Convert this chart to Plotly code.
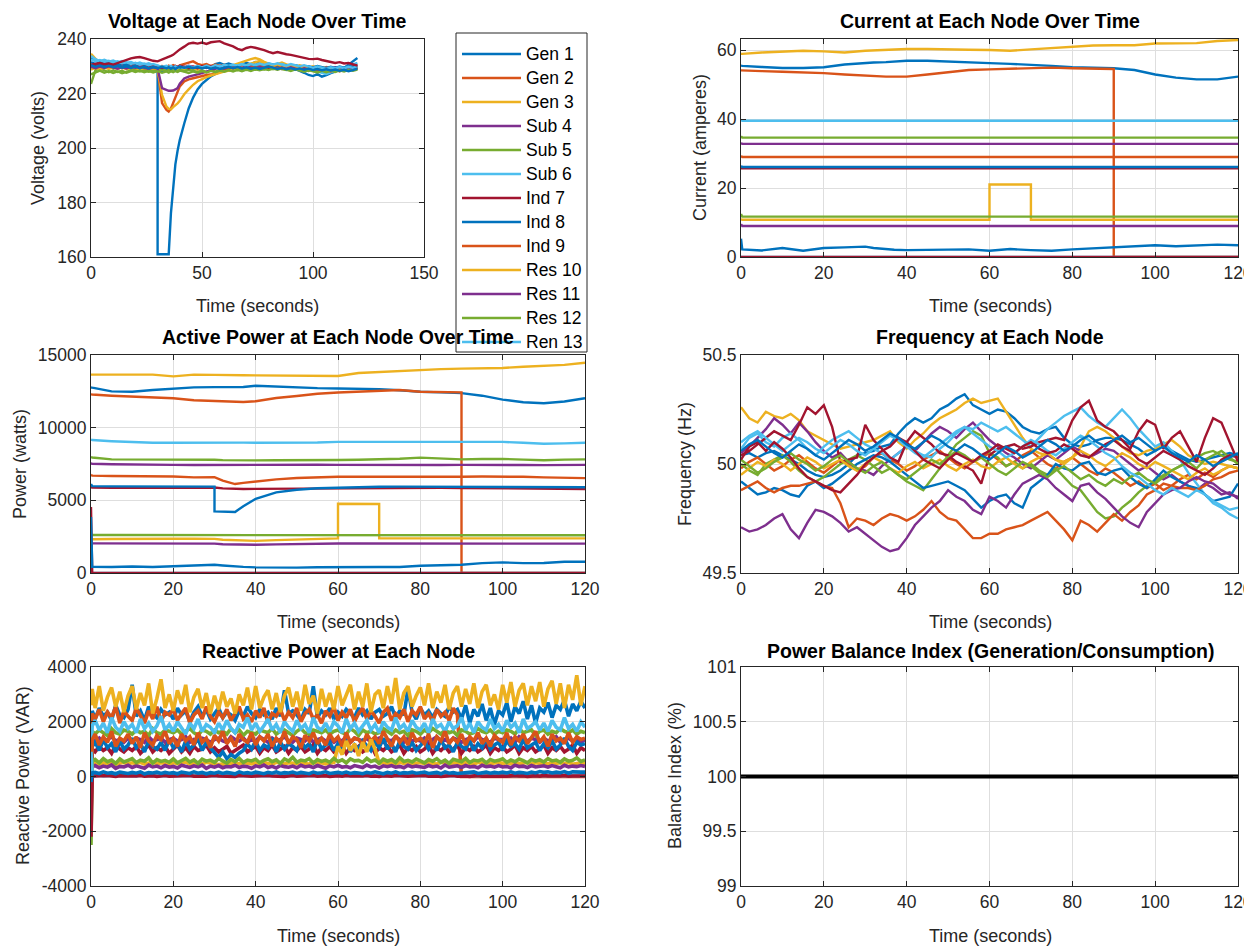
import plotly.graph_objects as go

# ---------------- names / colours / ticks ----------------
NAMES = ["Gen 1", "Gen 2", "Gen 3", "Sub 4", "Sub 5", "Sub 6", "Ind 7",
         "Ind 8", "Ind 9", "Res 10", "Res 11", "Res 12", "Ren 13"]
COLORS = ["#0072BD", "#D95319", "#EDB120", "#7E2F8E", "#77AC30", "#4DBEEE", "#A2142F"]

VOLT_XTICKS = [0, 50, 100, 150]
VOLT_YTICKS = [160, 180, 200, 220, 240]
TIME_TICKS = [0, 20, 40, 60, 80, 100, 120]
CURR_YTICKS = [0, 20, 40, 60]
POW_YTICKS = [0, 5000, 10000, 15000]
FREQ_YTICKS = [49.5, 50, 50.5]
FREQ_YLABELS = ["49.5", "50", "50.5"]
Q_YTICKS = [-4000, -2000, 0, 2000, 4000]
Q_YLABELS = ["-4000", "-2000", "0", "2000", "4000"]
BAL_YTICKS = [99, 99.5, 100, 100.5, 101]
BAL_YLABELS = ["99", "99.5", "100", "100.5", "101"]

# ---------------- voltage (V) ----------------
T_V = [0, 2, 4, 6, 8, 10, 12, 14, 16, 18, 20, 22, 24, 26, 28,
       30, 30, 32, 34, 35, 36, 37, 38, 39, 40,
       42, 44, 46, 48, 50, 52, 54, 56, 58, 60, 62, 64, 66, 68, 70, 72, 74, 76, 78, 80,
       82, 84, 86, 88, 90, 92, 94, 96, 98, 100, 102, 104, 106, 108, 110, 112, 114, 116, 118, 120]

V1 = [233.0, 232.2, 231.5, 231.8, 230.9, 231.4, 230.6, 230.2, 231.0, 230.1, 229.6, 230.3, 229.4, 229.8, 229.1,
      228.6, 228.6, 228.2, 228.9, 229.3, 228.4, 228.8, 229.5, 228.7, 229.2,
      229.8, 229.0, 228.6, 229.4, 229.9, 230.3, 229.6, 230.8, 231.2, 230.5, 231.0, 230.4, 229.9, 230.6, 231.3, 230.7, 231.5, 230.9, 231.2, 230.6,
      230.1, 230.8, 229.9, 230.4, 229.6, 229.0, 228.3, 227.6, 226.8, 226.4, 227.1, 226.2, 226.7, 227.5, 228.0, 228.8, 229.4, 230.6, 231.9, 233.0]
V2 = [230.5, 230.0, 229.6, 230.3, 229.8, 230.6, 230.1, 229.5, 230.2, 229.9, 230.4, 229.7, 230.2, 229.5, 230.0,
      229.8, 229.8, 230.1, 229.6, 230.2, 229.9, 230.4, 230.0, 229.7, 230.3,
      230.9, 231.3, 231.8, 230.9, 230.4, 230.8, 230.1, 230.6, 230.0, 230.5, 229.9, 230.4, 229.8, 230.2, 229.7, 230.3, 229.9, 230.5, 230.1, 229.6,
      230.2, 229.8, 230.4, 229.9, 229.3, 229.8, 229.2, 229.7, 229.1, 229.6, 229.0, 229.5, 228.9, 229.4, 228.8, 229.3, 228.7, 229.2, 228.9, 229.4]
V3 = [234.6, 232.8, 231.0, 230.2, 229.5, 229.9, 229.2, 229.6, 228.9, 229.4, 228.7, 229.1, 228.5, 229.0, 228.6,
      228.9, 228.9, 229.3, 228.8, 229.2, 228.7, 229.1, 228.6, 229.0, 228.5,
      229.0, 228.6, 229.1, 228.7, 229.3, 229.8, 229.4, 230.0, 229.6, 230.3, 229.9, 230.5, 231.0, 231.6, 232.1, 232.6, 233.0, 232.5, 231.6, 230.8,
      230.3, 230.9, 231.4, 230.7, 230.2, 229.8, 230.4, 229.9, 229.4, 230.0, 229.5, 229.1, 229.7, 229.3, 228.8, 229.4, 228.9, 229.5, 229.1, 229.6]
V4 = [229.5, 230.2, 229.8, 230.6, 230.0, 229.4, 230.1, 229.6, 230.3, 229.8, 229.2, 229.9, 229.4, 230.0, 229.5,
      229.8, 229.8, 229.3, 229.9, 229.5, 230.0, 229.4, 229.9, 229.6, 230.1,
      229.7, 230.2, 229.8, 229.3, 229.9, 229.4, 230.0, 229.5, 230.1, 229.7, 229.2, 229.8, 229.3, 229.9, 229.4, 230.0, 229.6, 229.1, 229.7, 229.2,
      229.8, 229.4, 229.9, 229.5, 229.0, 229.6, 229.1, 229.7, 229.2, 228.8, 229.4, 228.9, 229.5, 229.0, 229.6, 229.1, 228.7, 229.3, 228.8, 229.4]
V5 = [223.5, 228.6, 229.2, 228.4, 227.8, 228.5, 227.9, 228.3, 227.6, 228.2, 228.7, 228.1, 228.6, 228.0, 228.4,
      228.2, 228.2, 228.7, 228.3, 228.8, 228.4, 228.9, 228.5, 228.1, 228.6,
      228.2, 228.7, 228.3, 227.8, 228.4, 227.9, 228.5, 228.0, 228.6, 228.9, 228.4, 229.0, 228.5, 229.1, 228.6, 229.2, 228.7, 229.3, 228.8, 229.4,
      228.9, 229.5, 229.0, 228.6, 229.1, 228.7, 229.2, 228.8, 228.3, 228.9, 228.4, 228.0, 228.6, 228.1, 228.7, 228.2, 228.8, 228.4, 228.9, 229.3]
V6 = [233.8, 232.6, 231.9, 232.4, 231.7, 232.1, 231.4, 231.9, 231.2, 231.6, 230.9, 231.4, 230.7, 231.1, 230.5,
      230.2, 230.2, 229.6, 230.0, 229.5, 229.9, 229.3, 229.8, 229.4, 229.9,
      229.5, 230.0, 229.6, 230.1, 229.7, 230.2, 229.8, 230.3, 229.9, 230.5, 230.1, 230.6, 230.2, 230.8, 230.3, 230.9, 230.4, 231.0, 230.6, 231.1,
      230.7, 230.2, 230.8, 230.3, 229.8, 230.4, 229.9, 229.4, 229.0, 228.5, 228.1, 227.6, 227.2, 227.8, 228.3, 228.9, 229.4, 230.0, 230.6, 231.2]
V7 = [229.0, 230.5, 231.0, 230.4, 230.9, 230.2, 229.8, 230.4, 229.9, 230.5, 230.0, 229.6, 230.2, 229.7, 230.3,
      229.9, 229.9, 229.4, 229.9, 229.5, 230.0, 229.6, 230.1, 229.7, 230.2,
      229.8, 229.3, 229.9, 229.4, 230.0, 229.5, 230.1, 229.6, 229.2, 229.8, 229.3, 229.9, 229.5, 230.0, 229.6, 229.1, 229.7, 229.2, 229.8, 229.4,
      229.9, 229.5, 229.0, 229.6, 229.1, 229.7, 229.3, 228.8, 229.4, 228.9, 229.5, 229.0, 228.6, 229.2, 228.7, 229.3, 228.8, 229.4, 229.9, 230.4]
V8 = [231.5, 230.8, 231.4, 230.6, 231.1, 230.3, 230.9, 230.1, 230.6, 229.8, 230.3, 229.5, 230.0, 229.2, 229.7,
      229.2, 161.0, 161.0, 161.0, 161.0, 176.0, 186.0, 194.0, 199.0, 203.0,
      209.0, 214.5, 218.5, 221.5, 223.5, 225.0, 226.3, 227.2, 228.0, 228.4, 228.9, 229.5, 229.1, 229.7, 230.2, 229.8, 230.4, 229.9, 230.5, 230.1,
      230.6, 230.2, 229.7, 230.3, 229.8, 230.4, 229.9, 229.5, 230.0, 229.6, 230.1, 229.7, 229.3, 229.8, 229.4, 229.9, 229.5, 230.1, 229.7, 230.2]
V9 = [230.2, 229.6, 230.1, 229.5, 230.0, 229.4, 229.9, 229.3, 229.8, 229.2, 229.7, 229.1, 229.6, 229.0, 229.5,
      229.0, 229.0, 216.5, 214.0, 213.4, 214.5, 216.5, 218.5, 220.5, 222.6,
      224.4, 225.2, 225.6, 226.0, 226.5, 226.8, 227.0, 227.2, 227.8, 228.3, 228.9, 229.5, 229.1, 229.7, 229.3, 229.9, 229.5, 230.0, 229.6, 230.2,
      229.8, 229.3, 229.9, 229.4, 229.0, 229.6, 229.1, 228.7, 229.3, 228.8, 228.4, 229.0, 228.5, 228.1, 228.7, 228.2, 228.8, 228.4, 229.0, 229.5]
V10 = [228.8, 229.4, 228.9, 229.5, 229.0, 229.6, 229.1, 229.7, 229.2, 229.8, 229.3, 228.9, 229.4, 229.0, 229.5,
       229.1, 229.1, 219.5, 215.2, 214.4, 214.2, 215.0, 215.6, 216.4, 217.3,
       219.7, 221.5, 223.2, 224.5, 225.4, 226.0, 226.6, 227.2, 227.6, 228.0, 228.3, 228.7, 229.2, 229.8, 230.4, 230.9, 231.5, 231.9, 231.3, 230.6,
       230.1, 230.7, 230.2, 229.7, 230.3, 229.8, 229.4, 229.9, 229.5, 229.0, 229.6, 229.1, 228.7, 229.2, 228.8, 229.3, 228.9, 229.4, 229.0, 229.5]
V11 = [229.8, 229.3, 229.9, 229.4, 230.0, 229.5, 229.1, 229.7, 229.2, 229.8, 229.4, 229.9, 229.5, 229.0, 229.6,
       229.2, 229.2, 222.0, 221.2, 221.0, 221.0, 221.1, 221.5, 222.0, 223.6,
       225.5, 226.2, 226.5, 227.0, 227.5, 228.0, 228.6, 229.1, 229.6, 229.2, 229.8, 229.3, 229.9, 229.4, 230.0, 229.5, 229.1, 229.7, 229.2, 229.8,
       229.3, 228.9, 229.5, 229.0, 229.6, 229.1, 228.7, 229.3, 228.8, 229.4, 228.9, 228.5, 229.1, 228.6, 229.2, 228.7, 229.3, 228.8, 229.4, 229.0]
V12 = [227.0, 227.8, 228.4, 227.6, 228.2, 227.5, 228.1, 227.4, 228.0, 228.5, 227.9, 228.4, 227.8, 228.3, 227.7,
       228.2, 228.2, 227.6, 228.1, 227.7, 228.2, 227.8, 228.3, 227.9, 228.4,
       228.0, 227.5, 228.1, 227.6, 228.2, 227.7, 228.3, 227.8, 228.4, 228.0, 228.6, 228.1, 228.7, 228.2, 228.8, 228.3, 228.9, 228.5, 229.0, 228.6,
       229.1, 228.7, 229.2, 228.8, 228.3, 228.9, 228.4, 228.0, 228.6, 228.1, 227.7, 228.3, 227.8, 228.4, 227.9, 228.5, 228.1, 228.7, 228.3, 228.8]
V13 = [232.5, 231.8, 232.3, 231.6, 232.0, 231.3, 231.8, 231.1, 231.5, 230.8, 231.3, 230.6, 231.0, 230.4, 230.8,
       230.3, 230.3, 229.8, 230.2, 229.7, 230.1, 229.6, 230.0, 229.5, 229.9,
       229.4, 229.9, 229.5, 230.0, 229.6, 230.1, 229.7, 230.3, 229.8, 230.4, 230.0, 230.5, 230.1, 230.7, 230.2, 230.8, 230.4, 230.9, 230.5, 231.0,
       230.6, 231.1, 230.7, 230.2, 230.8, 230.3, 229.9, 230.4, 229.9, 229.4, 229.9, 229.5, 229.0, 229.6, 229.2, 229.7, 229.3, 229.8, 229.4, 229.9]
V14 = [230.6, 231.0, 231.2, 230.8, 231.0, 230.6, 231.2, 231.8, 232.4, 232.9, 233.2, 233.4, 233.0, 232.5, 232.0,
       231.8, 231.8, 232.4, 233.0, 233.4, 233.8, 234.2, 234.9, 235.6, 236.2,
       237.2, 238.3, 238.6, 238.3, 238.7, 238.2, 238.8, 238.9, 239.2, 238.4, 237.8, 237.3, 236.4, 235.9, 236.7, 237.1, 236.8, 236.4, 235.9, 235.3,
       234.8, 235.2, 234.7, 234.4, 234.2, 233.8, 233.3, 232.9, 232.7, 232.6, 232.8, 232.3, 231.9, 231.4, 231.2, 231.5, 231.0, 231.2, 230.6, 230.2]
V15 = [230.4, 229.8, 230.3, 229.7, 230.2, 229.6, 230.1, 229.5, 230.0, 229.4, 229.9, 229.3, 229.8, 229.2, 229.7,
       229.3, 229.3, 229.8, 229.2, 229.7, 229.1, 229.6, 229.0, 229.5, 229.9,
       229.4, 229.8, 229.3, 229.7, 229.2, 229.6, 229.1, 229.5, 229.0, 229.4, 229.8, 229.3, 229.7, 229.2, 229.6, 229.1, 229.5, 229.0, 229.4, 229.9,
       229.5, 229.0, 229.4, 228.9, 229.3, 228.8, 229.2, 228.7, 229.1, 228.6, 229.0, 228.5, 228.9, 228.4, 228.8, 228.3, 228.7, 228.2, 228.6, 229.1]
VOLT = [V1, V2, V3, V4, V5, V6, V7, V8, V9, V10, V11, V12, V13, V14, V15]

# ---------------- current (A) and active power (W) ----------------
T_CP = [0, 0.3, 5, 10, 15, 20, 25, 30,
        30, 32, 35, 37, 40, 45, 50, 55,
        60, 60, 65, 70, 70, 75, 80, 85,
        90, 90, 95, 100, 105, 110, 115, 120]

I1 = [55.5, 55.4, 55.1, 54.8, 54.8, 55.0, 55.8, 56.3, 56.3, 56.4, 56.5, 56.7, 56.9, 56.9, 56.6, 56.3,
      56.2, 56.2, 56.0, 55.8, 55.8, 55.4, 55.0, 54.8, 54.7, 54.7, 54.2, 52.9, 52.0, 51.5, 51.5, 52.3]
I2 = [54.1, 54.1, 53.9, 53.7, 53.6, 53.3, 52.9, 52.5, 52.5, 52.4, 52.3, 52.3, 52.3, 52.9, 53.6, 54.2,
      54.4, 54.4, 54.5, 54.7, 54.7, 54.9, 54.7, 54.5, 54.5, 0.0, 0.0, 0.0, 0.0, 0.0, 0.0, 0.0]
I3 = [58.9, 58.9, 59.3, 59.6, 59.8, 59.6, 59.3, 59.8, 59.8, 59.9, 60.0, 60.1, 60.3, 60.3, 60.3, 60.1,
      60.0, 60.0, 59.8, 60.2, 60.2, 60.6, 61.1, 61.3, 61.4, 61.4, 61.4, 61.9, 61.9, 62.0, 62.6, 62.9]
I4 = [33.0, 32.8, 32.8, 32.8, 32.8, 32.8, 32.8, 32.8, 32.8, 32.8, 32.8, 32.8, 32.8, 32.8, 32.8, 32.8,
      32.8, 32.8, 32.8, 32.8, 32.8, 32.8, 32.8, 32.8, 32.8, 32.8, 32.8, 32.8, 32.8, 32.8, 32.8, 32.8]
I5 = [35.0, 34.6, 34.6, 34.6, 34.6, 34.6, 34.6, 34.6, 34.6, 34.6, 34.6, 34.6, 34.6, 34.6, 34.6, 34.6,
      34.6, 34.6, 34.6, 34.6, 34.6, 34.6, 34.6, 34.6, 34.6, 34.6, 34.6, 34.6, 34.6, 34.6, 34.6, 34.6]
I6 = [39.8, 39.5, 39.5, 39.5, 39.5, 39.5, 39.5, 39.5, 39.5, 39.5, 39.5, 39.5, 39.5, 39.5, 39.5, 39.5,
      39.5, 39.5, 39.5, 39.5, 39.5, 39.5, 39.5, 39.5, 39.5, 39.5, 39.5, 39.5, 39.5, 39.5, 39.5, 39.5]
I7 = [25.7, 25.7, 25.7, 25.7, 25.7, 25.7, 25.7, 25.7, 25.7, 25.7, 25.7, 25.7, 25.7, 25.7, 25.7, 25.7,
      25.7, 25.7, 25.7, 25.7, 25.7, 25.7, 25.7, 25.7, 25.7, 25.7, 25.7, 25.7, 25.7, 25.7, 25.7, 25.7]
I8 = [26.4, 26.1, 26.1, 26.1, 26.1, 26.1, 26.1, 26.1, 26.1, 26.1, 26.1, 26.1, 26.1, 26.1, 26.1, 26.1,
      26.1, 26.1, 26.1, 26.1, 26.1, 26.1, 26.1, 26.1, 26.1, 26.1, 26.1, 26.1, 26.1, 26.1, 26.1, 26.1]
I9 = [29.3, 29.0, 29.0, 29.0, 29.0, 29.0, 29.0, 29.0, 29.0, 29.0, 29.0, 29.0, 29.0, 29.0, 29.0, 29.0,
      29.0, 29.0, 29.0, 29.0, 29.0, 29.0, 29.0, 29.0, 29.0, 29.0, 29.0, 29.0, 29.0, 29.0, 29.0, 29.0]
I10 = [11.0, 10.8, 10.8, 10.8, 10.8, 10.8, 10.8, 10.8, 10.8, 10.8, 10.8, 10.8, 10.8, 10.8, 10.8, 10.8,
       10.8, 21.0, 21.0, 21.0, 10.8, 10.8, 10.8, 10.8, 10.8, 10.8, 10.8, 10.8, 10.8, 10.8, 10.8, 10.8]
I11 = [9.5, 9.0, 9.0, 9.0, 9.0, 9.0, 9.0, 9.0, 9.0, 9.0, 9.0, 9.0, 9.0, 9.0, 9.0, 9.0,
       9.0, 9.0, 9.0, 9.0, 9.0, 9.0, 9.0, 9.0, 9.0, 9.0, 9.0, 9.0, 9.0, 9.0, 9.0, 9.0]
I12 = [12.5, 11.7, 11.7, 11.7, 11.7, 11.7, 11.7, 11.7, 11.7, 11.7, 11.7, 11.7, 11.7, 11.7, 11.7, 11.7,
       11.7, 11.7, 11.7, 11.7, 11.7, 11.7, 11.7, 11.7, 11.7, 11.7, 11.7, 11.7, 11.7, 11.7, 11.7, 11.7]
I13 = [0.0, 0.0, 0.0, 0.0, 0.0, 0.0, 0.0, 0.0, 0.0, 0.0, 0.0, 0.0, 0.0, 0.0, 0.0, 0.0,
       0.0, 0.0, 0.0, 0.0, 0.0, 0.0, 0.0, 0.0, 0.0, 0.0, 0.0, 0.0, 0.0, 0.0, 0.0, 0.0]
I14 = [0.0, 0.0, 0.0, 0.0, 0.0, 0.0, 0.0, 0.0, 0.0, 0.0, 0.0, 0.0, 0.0, 0.0, 0.0, 0.0,
       0.0, 0.0, 0.0, 0.0, 0.0, 0.0, 0.0, 0.0, 0.0, 0.0, 0.0, 0.0, 0.0, 0.0, 0.0, 0.0]
I15 = [5.3, 2.2, 1.9, 2.6, 1.8, 2.6, 2.8, 3.0, 3.0, 2.6, 2.2, 2.1, 2.0, 2.0, 2.1, 2.2,
       1.8, 1.8, 2.3, 2.0, 2.0, 1.8, 2.2, 2.5, 2.6, 2.6, 3.0, 3.4, 3.1, 3.4, 3.6, 3.4]
CURR = [I1, I2, I3, I4, I5, I6, I7, I8, I9, I10, I11, I12, I13, I14, I15]

P1 = [12770, 12750, 12500, 12470, 12590, 12700, 12770, 12790, 12790, 12780, 12770, 12800, 12880, 12820, 12770, 12720,
      12700, 12700, 12700, 12650, 12650, 12570, 12470, 12430, 12380, 12380, 12200, 11930, 11750, 11680, 11800, 12020]
P2 = [12290, 12280, 12200, 12130, 12090, 12020, 11890, 11840, 11840, 11810, 11760, 11770, 11820, 12040, 12180, 12330,
      12420, 12420, 12460, 12510, 12510, 12590, 12470, 12430, 12430, 0, 0, 0, 0, 0, 0, 0]
P3 = [13650, 13650, 13600, 13620, 13650, 13530, 13650, 13630, 13630, 13610, 13600, 13610, 13600, 13600, 13560, 13550,
      13560, 13560, 13760, 13830, 13830, 13940, 14000, 14030, 14060, 14060, 14060, 14110, 14190, 14240, 14320, 14470]
P4 = [7530, 7520, 7480, 7450, 7440, 7440, 7430, 7440, 7440, 7430, 7420, 7420, 7430, 7440, 7440, 7450,
      7440, 7440, 7430, 7440, 7440, 7450, 7440, 7430, 7440, 7440, 7450, 7440, 7430, 7420, 7430, 7440]
P5 = [7980, 7950, 7820, 7820, 7830, 7820, 7800, 7790, 7790, 7770, 7750, 7750, 7750, 7760, 7750, 7760,
      7780, 7780, 7790, 7800, 7800, 7860, 7940, 7860, 7820, 7820, 7840, 7850, 7800, 7760, 7800, 7820]
P6 = [9180, 9150, 9070, 9000, 8960, 8960, 8970, 9000, 9000, 8990, 8980, 8970, 8960, 8960, 8960, 8980,
      9020, 9020, 9020, 9030, 9030, 9050, 9070, 9040, 9020, 9020, 9020, 9020, 8960, 8890, 8920, 8960]
P7 = [5900, 5880, 5870, 5880, 5870, 5880, 5870, 5880, 5880, 5820, 5770, 5780, 5790, 5800, 5820, 5840,
      5850, 5850, 5860, 5870, 5870, 5870, 5880, 5860, 5850, 5850, 5840, 5830, 5820, 5800, 5790, 5780]
P8 = [6120, 5980, 5960, 5960, 5960, 5950, 5950, 5940, 4240, 4220, 4200, 4600, 5100, 5550, 5730, 5830,
      5880, 5880, 5910, 5930, 5930, 5940, 5940, 5940, 5930, 5930, 5920, 5920, 5910, 5900, 5900, 5900]
P9 = [6760, 6700, 6670, 6670, 6660, 6640, 6580, 6600, 6600, 6350, 6120, 6200, 6300, 6440, 6540, 6600,
      6620, 6620, 6620, 6620, 6620, 6600, 6580, 6600, 6620, 6620, 6640, 6640, 6620, 6580, 6560, 6530]
P10 = [2310, 2320, 2340, 2360, 2360, 2360, 2360, 2350, 2350, 2290, 2250, 2220, 2210, 2260, 2310, 2350,
       2380, 4760, 4760, 4750, 2380, 2380, 2380, 2380, 2380, 2380, 2380, 2380, 2380, 2380, 2380, 2380]
P11 = [2040, 2040, 2040, 2040, 2040, 2030, 2030, 2020, 2020, 1980, 1950, 1930, 1940, 1970, 2000, 2020,
       2030, 2030, 2030, 2030, 2030, 2030, 2030, 2020, 2020, 2020, 2020, 2020, 2020, 2020, 2020, 2020]
P12 = [2630, 2610, 2610, 2610, 2610, 2610, 2610, 2610, 2610, 2610, 2600, 2600, 2600, 2600, 2610, 2610,
       2610, 2610, 2610, 2610, 2610, 2610, 2600, 2600, 2600, 2600, 2600, 2600, 2600, 2600, 2600, 2600]
P13 = [0, 0, 0, 0, 0, 0, 0, 0, 0, 0, 0, 0, 0, 0, 0, 0,
       0, 0, 0, 0, 0, 0, 0, 0, 0, 0, 0, 0, 0, 0, 0, 0]
P14 = [4540, 0, 0, 0, 0, 0, 0, 0, 0, 0, 0, 0, 0, 0, 0, 0,
       0, 0, 0, 0, 0, 0, 0, 0, 0, 0, 0, 0, 0, 0, 0, 0]
P15 = [3850, 420, 410, 450, 410, 450, 510, 570, 570, 520, 450, 420, 390, 360, 370, 400,
       410, 410, 450, 410, 410, 410, 500, 530, 570, 570, 680, 730, 680, 690, 770, 770]
POWER = [P1, P2, P3, P4, P5, P6, P7, P8, P9, P10, P11, P12, P13, P14, P15]

# ---------------- frequency (Hz), every 2 s ----------------
T_F = list(range(0, 121, 2))
F1 = [50.04, 50.05, 50.03, 50.05, 50.06, 50.04, 50.02, 50.00, 49.97, 49.95, 49.94, 49.95, 49.97, 50.00, 50.04,
      50.05, 50.06, 50.08, 50.09, 50.14, 50.18, 50.21, 50.19, 50.21, 50.25, 50.27, 50.30, 50.32, 50.27, 50.25,
      50.23, 50.25, 50.24, 50.21, 50.17, 50.15, 50.14, 50.16, 50.17, 50.12, 50.09, 50.08, 50.09, 50.11, 50.12,
      50.12, 50.11, 50.09, 50.07, 50.04, 50.06, 50.09, 50.06, 50.04, 50.02, 50.01, 50.02, 50.03, 50.04, 50.05, 50.04]
F2 = [49.98, 50.01, 50.03, 50.00, 49.97, 49.99, 50.02, 50.04, 50.01, 49.98, 49.96, 49.99, 50.02, 50.00, 49.97,
      49.99, 50.03, 50.05, 50.02, 50.00, 49.97, 49.99, 50.02, 50.04, 50.06, 50.03, 50.00, 49.98, 50.01, 50.03,
      50.05, 50.02, 49.99, 50.01, 50.04, 50.06, 50.03, 50.00, 49.98, 50.01, 50.03, 50.00, 49.97, 49.95, 49.98,
      49.96, 49.93, 49.90, 49.92, 49.89, 49.91, 49.88, 49.90, 49.93, 49.95, 49.93, 49.96, 49.94, 49.97, 49.99, 49.98]
F3 = [50.26, 50.21, 50.19, 50.24, 50.22, 50.21, 50.23, 50.20, 50.15, 50.13, 50.11, 50.09, 50.07, 50.08, 50.09,
      50.10, 50.11, 50.13, 50.15, 50.10, 50.07, 50.11, 50.14, 50.18, 50.21, 50.23, 50.25, 50.28, 50.30, 50.28,
      50.29, 50.30, 50.24, 50.18, 50.12, 50.07, 50.05, 50.04, 50.02, 50.01, 50.03, 50.08, 50.15, 50.17, 50.15,
      50.12, 50.08, 50.05, 50.04, 50.06, 50.07, 50.09, 50.11, 50.08, 50.04, 50.02, 50.00, 50.01, 50.00, 49.99, 49.98]
F4 = [50.05, 50.08, 50.12, 50.16, 50.21, 50.18, 50.14, 50.19, 50.15, 50.10, 50.06, 50.03, 50.05, 50.01, 49.98,
      49.97, 49.95, 49.99, 50.02, 50.05, 50.08, 50.06, 50.10, 50.14, 50.17, 50.15, 50.12, 50.16, 50.19, 50.15,
      50.11, 50.08, 50.05, 50.03, 50.00, 49.98, 50.01, 50.04, 50.02, 50.05, 50.08, 50.06, 50.03, 50.05, 50.07,
      50.06, 50.03, 50.00, 49.97, 49.99, 49.96, 49.93, 49.95, 49.92, 49.90, 49.88, 49.91, 49.89, 49.86, 49.87, 49.84]
F5 = [50.00, 49.97, 49.95, 50.00, 50.02, 50.04, 50.01, 49.97, 49.94, 49.92, 49.94, 49.97, 50.00, 50.02, 50.04,
      50.02, 49.99, 49.96, 49.98, 49.95, 49.92, 49.90, 49.88, 49.93, 49.98, 50.04, 50.09, 50.12, 50.15, 50.13,
      50.05, 50.03, 49.99, 50.01, 49.98, 50.00, 49.97, 49.95, 49.98, 49.94, 49.90, 49.88, 49.83, 49.78, 49.75,
      49.76, 49.80, 49.83, 49.87, 49.90, 49.92, 49.95, 49.97, 49.99, 50.01, 50.03, 50.05, 50.06, 50.04, 50.02, 50.01]
F6 = [50.07, 50.12, 50.14, 50.10, 50.08, 50.12, 50.14, 50.11, 50.07, 50.04, 50.08, 50.11, 50.13, 50.15, 50.12,
      50.09, 50.07, 50.05, 50.02, 50.05, 50.08, 50.06, 50.04, 50.03, 50.07, 50.10, 50.14, 50.17, 50.16, 50.19,
      50.17, 50.15, 50.17, 50.14, 50.11, 50.08, 50.12, 50.16, 50.19, 50.22, 50.24, 50.26, 50.22, 50.19, 50.17,
      50.21, 50.25, 50.21, 50.16, 50.12, 50.08, 50.10, 50.06, 50.02, 49.96, 49.91, 49.86, 49.82, 49.80, 49.77, 49.75]
F7 = [50.04, 50.06, 50.09, 50.12, 50.15, 50.13, 50.11, 50.18, 50.26, 50.23, 50.27, 50.17, 50.01, 50.02, 50.03,
      50.18, 50.11, 50.07, 50.03, 50.01, 50.10, 50.15, 50.12, 50.09, 50.05, 50.04, 50.01, 49.99, 49.97, 49.91,
      50.04, 50.07, 50.08, 50.09, 50.07, 50.08, 50.10, 50.11, 50.12, 50.11, 50.20, 50.26, 50.29, 50.20, 50.17,
      50.15, 50.11, 50.07, 50.15, 50.20, 50.18, 50.07, 50.12, 50.15, 50.08, 50.01, 50.12, 50.21, 50.19, 50.10, 50.01]
F8 = [49.92, 49.89, 49.86, 49.87, 49.89, 49.88, 49.86, 49.85, 49.90, 49.92, 49.89, 49.91, 49.94, 49.97, 50.00,
      50.02, 50.04, 50.03, 50.01, 49.98, 49.95, 49.92, 49.89, 49.90, 49.91, 49.92, 49.90, 49.88, 49.84, 49.80,
      49.83, 49.85, 49.86, 49.82, 49.80, 49.89, 49.92, 49.95, 50.00, 49.98, 49.97, 50.00, 50.01, 49.96, 49.95,
      49.97, 49.98, 49.94, 49.91, 49.89, 49.93, 49.97, 49.94, 49.92, 49.90, 49.89, 49.86, 49.83, 49.84, 49.85, 49.91]
F9 = [49.88, 49.90, 49.92, 49.89, 49.87, 49.89, 49.90, 49.90, 49.91, 49.92, 49.90, 49.89, 49.82, 49.71, 49.75,
      49.74, 49.72, 49.75, 49.77, 49.76, 49.74, 49.76, 49.79, 49.83, 49.78, 49.75, 49.74, 49.70, 49.66, 49.66,
      49.68, 49.68, 49.70, 49.71, 49.72, 49.74, 49.76, 49.78, 49.74, 49.70, 49.65, 49.74, 49.72, 49.69, 49.73,
      49.77, 49.74, 49.78, 49.81, 49.86, 49.88, 49.91, 49.90, 49.89, 49.89, 49.88, 49.90, 49.93, 49.94, 49.96, 49.97]
F10 = [49.95, 49.98, 50.01, 49.99, 50.02, 50.00, 49.97, 50.00, 50.03, 50.01, 49.98, 50.00, 50.02, 49.99, 49.97,
       50.00, 50.03, 50.01, 49.98, 49.96, 49.99, 50.01, 49.98, 50.00, 50.02, 49.99, 49.97, 50.00, 50.02, 49.99,
       49.98, 50.01, 50.03, 50.00, 49.98, 50.01, 50.03, 50.05, 50.02, 50.00, 50.03, 50.06, 50.04, 50.01, 49.99,
       50.02, 50.05, 50.03, 50.00, 49.98, 50.01, 49.99, 49.97, 49.95, 49.93, 49.96, 49.98, 49.95, 49.97, 49.99, 49.98]
F11 = [49.71, 49.69, 49.70, 49.72, 49.75, 49.77, 49.70, 49.66, 49.73, 49.79, 49.78, 49.76, 49.73, 49.69, 49.71,
       49.68, 49.65, 49.62, 49.60, 49.61, 49.66, 49.72, 49.76, 49.80, 49.83, 49.88, 49.85, 49.83, 49.79, 49.77,
       49.85, 49.83, 49.80, 49.86, 49.91, 49.93, 49.95, 49.93, 49.89, 49.86, 49.83, 49.90, 49.91, 49.87, 49.84,
       49.80, 49.76, 49.73, 49.71, 49.78, 49.82, 49.86, 49.88, 49.89, 49.92, 49.94, 49.92, 49.91, 49.88, 49.86, 49.85]
F12 = [50.02, 49.99, 49.96, 49.98, 50.01, 50.03, 50.05, 50.02, 50.00, 49.97, 49.99, 50.02, 50.04, 50.01, 49.98,
       49.96, 49.99, 50.01, 49.98, 49.95, 49.93, 49.96, 49.99, 50.02, 50.00, 50.03, 50.06, 50.04, 50.01, 50.03,
       50.00, 49.97, 49.95, 49.98, 50.01, 49.99, 49.96, 49.94, 49.97, 49.99, 49.96, 49.93, 49.95, 49.92, 49.90,
       49.93, 49.91, 49.94, 49.96, 49.93, 49.91, 49.94, 49.97, 49.99, 50.01, 49.98, 50.02, 50.04, 50.06, 50.03, 50.00]
F13 = [50.10, 50.13, 50.15, 50.12, 50.09, 50.06, 50.09, 50.12, 50.10, 50.07, 50.05, 50.08, 50.11, 50.09, 50.06,
       50.04, 50.07, 50.10, 50.13, 50.11, 50.08, 50.05, 50.03, 50.06, 50.09, 50.12, 50.15, 50.17, 50.14, 50.11,
       50.08, 50.06, 50.03, 50.05, 50.08, 50.11, 50.09, 50.06, 50.04, 50.07, 50.10, 50.13, 50.11, 50.08, 50.05,
       50.03, 49.99, 49.96, 49.94, 49.91, 49.88, 49.86, 49.89, 49.87, 49.85, 49.88, 49.86, 49.83, 49.81, 49.79, 49.80]
F14 = [50.02, 50.08, 50.10, 50.06, 50.10, 50.07, 50.03, 49.98, 49.94, 49.92, 49.90, 49.88, 49.87, 49.91, 49.95,
       50.00, 50.03, 50.06, 50.08, 50.12, 50.10, 50.06, 50.02, 50.00, 49.98, 50.02, 50.05, 50.03, 50.01, 50.04,
       50.06, 50.09, 50.07, 50.05, 50.08, 50.10, 50.07, 50.05, 50.06, 50.09, 50.07, 50.04, 50.03, 50.06, 50.09,
       50.11, 50.08, 50.06, 50.02, 50.00, 50.03, 50.06, 50.04, 50.02, 49.99, 49.97, 49.95, 49.98, 50.02, 50.04, 50.03]
F15 = [50.06, 50.09, 50.11, 50.08, 50.05, 50.03, 50.06, 50.09, 50.07, 50.04, 50.02, 50.05, 50.08, 50.11, 50.09,
       50.06, 50.08, 50.11, 50.14, 50.12, 50.09, 50.07, 50.10, 50.13, 50.11, 50.08, 50.06, 50.09, 50.07, 50.04,
       50.02, 50.05, 50.08, 50.06, 50.03, 50.05, 50.08, 50.11, 50.09, 50.06, 50.08, 50.11, 50.13, 50.10, 50.08,
       50.11, 50.13, 50.10, 50.12, 50.09, 50.06, 50.08, 50.05, 50.03, 50.01, 50.04, 50.02, 49.99, 50.01, 50.03, 50.05]
FREQ = [F1, F2, F3, F4, F5, F6, F7, F8, F9, F10, F11, F12, F13, F14, F15]

# ---------------- reactive power (VAR) ----------------
T_Q = [0, 0.3] + list(range(1, 121))
Q1 = [1500, 2400, 2100, 2500, 2200, 2350, 2050, 2600, 2250, 2150, 2450,
      3350, 2200, 2400, 2050, 2550, 2300, 2150, 2450, 2250, 2350,
      2100, 2500, 2250, 2400, 2000, 2350, 2550, 2200, 2450, 2100,
      2300, 2500, 2150, 2350, 2250, 2050, 2400, 2200, 2550, 2300,
      2150, 2450, 2250, 2350, 2100, 2500, 2200, 3150, 2300, 2400,
      2250, 2050, 2450, 2300, 3300, 2150, 2400, 2250, 2500, 2100,
      2350, 2200, 2450, 2300, 2150, 2500, 2250, 2400, 2100, 2350,
      2450, 2200, 2300, 2550, 2150, 2400, 2250, 3200, 2350, 2100,
      2500, 2250, 2400, 2150, 2450, 2300, 2200, 2550, 2350, 2450,
      2100, 2600, 1950, 2450, 2200, 2650, 2050, 2500, 1900, 2400,
      2250, 2700, 2000, 2550, 2300, 2750, 2100, 2600, 1950, 2500,
      2350, 2700, 2150, 2600, 2450, 2800, 2200, 2650, 2400, 2750,
      2500]
Q2 = [1800, 2300, 2100, 2450, 2000, 2350, 2150, 2550, 1950, 2400, 2200,
      2050, 2500, 2250, 1950, 2400, 2100, 2550, 2000, 2350, 2250,
      2450, 2050, 2300, 2500, 1950, 2250, 2400, 2100, 2550, 2200,
      2000, 2350, 2150, 2450, 2050, 2300, 2550, 2100, 2250, 2000,
      2400, 2150, 2500, 1950, 2300, 2200, 2450, 2050, 2350, 2150,
      2500, 2000, 2300, 2450, 2100, 2250, 1950, 2400, 2200, 2550,
      2050, 2350, 2150, 2450, 2000, 2300, 2500, 2100, 2400, 2200,
      1950, 2350, 2500, 2050, 2300, 2150, 2450, 2000, 2400, 2250,
      2550, 2100, 2300, 2000, 2450, 2200, 2350, 2050, 2500, 2250,
      0, 0, 0, 0, 0, 0, 0, 0, 0, 0,
      0, 0, 0, 0, 0, 0, 0, 0, 0, 0,
      0, 0, 0, 0, 0, 0, 0, 0, 0, 0,
      0]
Q3 = [2600, 3200, 2500, 3300, 2400, 2900, 3250, 2550, 3100, 2350, 2950,
      3300, 2450, 3050, 2600, 3400, 2300, 2850, 3550, 2500, 3000,
      2400, 3150, 2650, 3350, 2350, 2900, 3200, 2500, 3050, 2300,
      2950, 2450, 3100, 2550, 2850, 2300, 3000, 2600, 3250, 2450,
      3300, 2500, 2900, 3150, 2450, 3050, 2350, 2950, 3250, 2550,
      3100, 2400, 3350, 2650, 2950, 2300, 3200, 2550, 3050, 2450,
      3300, 2600, 2950, 3350, 2450, 3100, 2550, 3400, 2350, 3000,
      3150, 2500, 3300, 2650, 3600, 2450, 3050, 3300, 2550, 2950,
      3250, 2600, 3400, 2500, 3100, 2700, 3350, 2450, 3050, 3300,
      2550, 3200, 2650, 3400, 2500, 3100, 3350, 2600, 3000, 2450,
      3350, 2700, 3450, 2550, 3150, 3400, 2600, 3300, 2750, 3450,
      2550, 3200, 3500, 2650, 3400, 2500, 3350, 2800, 3700, 2600,
      3300]
Q4 = [1100, 1350, 1300, 1400, 1250, 1350, 1450, 1300, 1350, 1250, 1400,
      1300, 1400, 1350, 1250, 1450, 1300, 1350, 1400, 1250, 1350,
      1400, 1300, 1350, 1450, 1250, 1350, 1300, 1400, 1350, 1250,
      1350, 1400, 1300, 1250, 1450, 1350, 1300, 1400, 1250, 1350,
      1300, 1450, 1350, 1250, 1400, 1300, 1350, 1450, 1300, 1250,
      1400, 1350, 1300, 1450, 1250, 1350, 1400, 1300, 1350, 1250,
      1350, 1300, 1450, 1250, 1400, 1350, 1300, 1400, 1250, 1350,
      1400, 1250, 1350, 1300, 1450, 1350, 1250, 1400, 1300, 1350,
      1300, 1400, 1250, 1350, 1450, 1300, 1350, 1250, 1400, 1350,
      1250, 1350, 1400, 1300, 1450, 1350, 1300, 1250, 1400, 1350,
      1350, 1300, 1400, 1250, 1450, 1350, 1300, 1400, 1350, 1250,
      1400, 1300, 1350, 1450, 1250, 1350, 1400, 1300, 1350, 1250,
      1350]
Q5 = [1200, 1650, 1550, 1700, 1600, 1500, 1750, 1600, 1550, 1700, 1650,
      1550, 1700, 1600, 1650, 1500, 1750, 1600, 1550, 1700, 1650,
      1600, 1700, 1550, 1650, 1750, 1600, 1500, 1700, 1650, 1550,
      1700, 1600, 1650, 1550, 1750, 1600, 1700, 1500, 1650, 1600,
      1550, 1700, 1650, 1600, 1750, 1550, 1650, 1700, 1600, 1500,
      1650, 1750, 1600, 1550, 1700, 1650, 1600, 1700, 1550, 1650,
      1700, 1600, 1550, 1750, 1650, 1500, 1700, 1600, 1650, 1550,
      1600, 1750, 1650, 1550, 1700, 1600, 1650, 1500, 1700, 1650,
      1550, 1700, 1600, 1750, 1650, 1550, 1700, 1600, 1650, 1500,
      1700, 1650, 1550, 1600, 1750, 1650, 1600, 1700, 1550, 1650,
      1600, 1700, 1650, 1550, 1750, 1600, 1650, 1700, 1500, 1650,
      1700, 1550, 1650, 1600, 1750, 1650, 1600, 1700, 1550, 1650,
      1600]
Q6 = [900, 1850, 2050, 1700, 1950, 1600, 2150, 1800, 1650, 2000, 1750,
      1900, 1600, 2100, 1750, 1950, 1650, 1850, 2200, 1700, 1900,
      1650, 2000, 1800, 1550, 1950, 1750, 2100, 1650, 1900, 1800,
      1600, 1950, 1700, 2050, 1750, 1600, 1900, 1800, 2150, 1700,
      1950, 1650, 1850, 2100, 1700, 1900, 1600, 2000, 1800, 1650,
      2050, 1750, 1900, 1600, 2150, 1800, 1700, 1950, 1650, 2000,
      1850, 1600, 2100, 1750, 1950, 1650, 1850, 2050, 1700, 1900,
      1600, 2000, 1800, 1700, 2150, 1750, 1900, 1650, 2050, 1800,
      1700, 1950, 1600, 2100, 1800, 1900, 1650, 2000, 1750, 1850,
      2150, 1700, 1950, 1600, 2000, 1800, 1700, 2100, 1750, 1900,
      1650, 2050, 1800, 1950, 1600, 2100, 1750, 1850, 2000, 1700,
      1950, 1650, 2050, 1800, 1700, 2150, 1750, 1900, 1650, 2000,
      1800]
Q7 = [-1500, 1000, 900, 1100, 950, 1050, 850, 1150, 1000, 900, 1050,
      950, 1100, 850, 1000, 1150, 900, 1050, 950, 1100, 850,
      1000, 1150, 900, 1050, 850, 1100, 950, 1000, 1150, 900,
      1050, 900, 1000, 1100, 850, 950, 1050, 1150, 900, 1000,
      1100, 850, 1050, 950, 1150, 900, 1000, 1100, 850, 1050,
      950, 1100, 900, 1000, 1150, 850, 1050, 950, 1100, 900,
      1000, 1150, 850, 1050, 950, 1100, 900, 1000, 1150, 850,
      1050, 950, 1100, 900, 1000, 1150, 850, 1050, 950, 1100,
      900, 1000, 1150, 850, 1050, 950, 1100, 900, 1000, 1150,
      850, 1050, 950, 1100, 900, 1000, 1150, 850, 1050, 950,
      1100, 900, 1000, 1150, 850, 1050, 950, 1100, 900, 1000,
      1150, 850, 1050, 950, 1100, 900, 1000, 1150, 850, 1050,
      950]
Q8 = [-300, 1100, 1250, 950, 1350, 1050, 1200, 900, 1300, 1000, 1150,
      1400, 1050, 1200, 900, 1300, 1100, 1000, 1250, 950, 1350,
      1050, 1200, 900, 1300, 1000, 1150, 1400, 950, 1250, 1050,
      850, 700, 900, 650, 800, 700, 850, 950, 1200, 1000,
      1300, 950, 1150, 1050, 1400, 900, 1250, 1000, 1200, 1100,
      950, 1300, 1050, 1200, 900, 1350, 1000, 1150, 1250, 950,
      1200, 1050, 1350, 900, 1150, 1000, 1300, 1100, 950, 1250,
      1050, 1400, 1000, 1200, 900, 1300, 1100, 1000, 1250, 950,
      1150, 1300, 1000, 1200, 950, 1350, 1050, 1150, 900, 1250,
      1100, 1000, 1300, 950, 1200, 1050, 1400, 1000, 1150, 1250,
      950, 1300, 1100, 1200, 1000, 1350, 1050, 1150, 1250, 950,
      1200, 1050, 1300, 1000, 1150, 1400, 1100, 950, 1250, 1150,
      1200]
Q9 = [-1000, 1350, 1550, 1150, 1450, 1250, 1650, 1100, 1400, 1300, 1550,
      1200, 1450, 1050, 1600, 1300, 1150, 1500, 1350, 1650, 1200,
      1400, 1100, 1550, 1300, 1450, 1150, 1600, 1250, 1400, 1050,
      1500, 1300, 1650, 1200, 1400, 1100, 1550, 1350, 1250, 1600,
      1150, 1450, 1300, 1550, 1100, 1400, 1250, 1650, 1200, 1450,
      1350, 1050, 1500, 1300, 1600, 1200, 1400, 1150, 1550, 1300,
      1450, 1100, 1600, 1250, 1400, 1350, 1150, 1550, 1300, 1450,
      1200, 1650, 1350, 1100, 1500, 1250, 1450, 1150, 1600, 1300,
      1400, 1200, 1550, 1050, 1450, 1300, 1650, 1200, 1400, 1250,
      1550, 1150, 1450, 1300, 1600, 1200, 1400, 1100, 1500, 1350,
      1250, 1600, 1150, 1450, 1300, 1550, 1200, 1400, 1650, 1250,
      1450, 1100, 1550, 1300, 1400, 1200, 1600, 1250, 1450, 1350,
      1400]
Q10 = [300, 480, 520, 450, 500, 470, 530, 440, 490, 510, 460,
       500, 470, 520, 450, 490, 530, 460, 500, 480, 440,
       510, 470, 490, 530, 450, 500, 480, 460, 520, 490,
       470, 440, 460, 430, 480, 450, 470, 500, 490, 460,
       500, 480, 510, 470, 450, 520, 490, 460, 500, 480,
       470, 510, 490, 450, 520, 480, 500, 460, 490, 510,
       1100, 800, 1300, 950, 1200, 750, 1250, 900, 1350, 1000,
       480, 510, 470, 490, 450, 520, 480, 500, 460, 490,
       510, 470, 500, 480, 450, 520, 490, 460, 500, 480,
       470, 510, 490, 450, 520, 480, 500, 460, 490, 510,
       480, 500, 460, 520, 470, 490, 510, 450, 500, 480,
       490, 460, 520, 480, 500, 470, 510, 450, 490, 500,
       480]
Q11 = [-600, 360, 400, 320, 380, 340, 420, 300, 370, 350, 410,
       330, 390, 360, 300, 420, 350, 380, 320, 400, 340,
       370, 310, 410, 360, 330, 390, 350, 420, 300, 380,
       340, 400, 320, 370, 350, 410, 330, 380, 360, 300,
       390, 350, 420, 330, 370, 310, 400, 360, 340, 380,
       320, 410, 350, 380, 330, 400, 360, 300, 390, 350,
       410, 340, 370, 320, 400, 360, 330, 420, 350, 380,
       310, 390, 360, 400, 340, 370, 320, 410, 350, 380,
       360, 330, 400, 350, 380, 310, 420, 340, 370, 390,
       330, 400, 350, 370, 320, 410, 360, 380, 340, 400,
       350, 370, 310, 420, 360, 380, 330, 400, 350, 370,
       390, 340, 400, 360, 320, 410, 350, 380, 360, 400,
       370]
Q12 = [-2500, 560, 620, 500, 650, 540, 600, 480, 640, 530, 590,
       650, 510, 600, 560, 680, 490, 620, 550, 590, 520,
       640, 500, 580, 660, 530, 610, 480, 630, 560, 600,
       520, 650, 570, 490, 620, 540, 660, 510, 600, 570,
       630, 500, 590, 650, 540, 610, 480, 640, 560, 700,
       520, 600, 570, 650, 490, 620, 550, 600, 520, 660,
       540, 610, 500, 640, 570, 590, 520, 660, 550, 600,
       490, 630, 560, 620, 510, 680, 550, 590, 530, 640,
       570, 500, 620, 560, 650, 520, 600, 480, 630, 580,
       540, 660, 510, 600, 570, 630, 500, 620, 560, 590,
       650, 520, 600, 540, 640, 580, 500, 620, 560, 610,
       530, 650, 570, 600, 520, 640, 560, 590, 680, 550,
       610]
Q13 = [900, 40, 30, 50, 20, 40, 30, 50, 40, 20, 30,
       40, 20, 50, 30, 40, 20, 30, 50, 40, 30,
       30, 50, 20, 40, 30, 50, 40, 20, 30, 40,
       50, 30, 40, 20, 50, 30, 40, 30, 20, 50,
       40, 20, 30, 50, 40, 30, 50, 20, 40, 30,
       20, 40, 50, 30, 20, 40, 30, 50, 30, 40,
       30, 50, 40, 20, 30, 50, 20, 40, 50, 30,
       40, 30, 20, 50, 40, 20, 30, 40, 50, 20,
       50, 40, 30, 20, 50, 30, 40, 20, 30, 40,
       30, 20, 50, 40, 30, 40, 20, 50, 40, 30,
       40, 50, 30, 20, 40, 30, 50, 30, 20, 40,
       20, 30, 40, 50, 30, 40, 20, 40, 50, 30,
       30]
Q14 = [-2200, 10, 20, 30, 10, 40, 20, 0, 30, 20, 10,
       30, 20, 40, 10, 20, 30, 0, 20, 40, 10,
       20, 0, 30, 20, 40, 10, 30, 20, 10, 30,
       40, 20, 10, 30, 20, 0, 40, 20, 30, 10,
       20, 30, 10, 40, 20, 10, 30, 0, 20, 40,
       10, 20, 30, 20, 40, 10, 20, 30, 0, 20,
       30, 10, 40, 20, 10, 30, 20, 40, 10, 20,
       0, 30, 20, 10, 40, 20, 30, 10, 20, 30,
       20, 40, 10, 30, 20, 0, 20, 30, 40, 10,
       30, 20, 0, 20, 40, 10, 30, 20, 10, 30,
       20, 10, 30, 40, 20, 30, 0, 20, 30, 10,
       40, 20, 10, 30, 20, 40, 10, 20, 30, 20,
       20]
Q15 = [-200, 130, 150, 110, 170, 120, 140, 100, 160, 130, 110,
       150, 120, 170, 100, 140, 130, 160, 110, 150, 120,
       140, 100, 160, 130, 110, 170, 120, 150, 100, 140,
       120, 160, 110, 150, 130, 100, 170, 120, 140, 110,
       160, 130, 100, 150, 120, 170, 110, 140, 130, 160,
       110, 150, 130, 100, 160, 120, 140, 170, 110, 130,
       150, 120, 160, 110, 140, 130, 100, 150, 120, 170,
       130, 100, 150, 120, 170, 110, 140, 130, 160, 120,
       140, 160, 110, 130, 150, 100, 170, 120, 140, 110,
       120, 150, 130, 170, 110, 140, 160, 120, 150, 130,
       160, 130, 170, 120, 150, 140, 110, 160, 130, 180,
       150, 170, 130, 160, 140, 180, 120, 170, 150, 160,
       160]
REACT = [Q1, Q2, Q3, Q4, Q5, Q6, Q7, Q8, Q9, Q10, Q11, Q12, Q13, Q14, Q15]

# ---------------- power balance index (%) ----------------
T_B = [0, 120]
BAL = [100, 100]

for arr, t in [(VOLT, T_V), (CURR, T_CP), (POWER, T_CP), (FREQ, T_F), (REACT, T_Q)]:
    for k, s in enumerate(arr):
        assert len(s) == len(t), (k, len(s), len(t))

# ---------------- figure ----------------
# the page body has an 8 px margin, so the figure is drawn 8 px in from the window corner
OFF = 8
W, H = 1252 - OFF, 949 - OFF
def px(x): return (x - OFF) / W
def py(y): return 1 - (y - OFF) / H

FONT = "Liberation Sans, Arial, Helvetica, sans-serif"
AX = "#262626"
GRID = "#dedede"
LW = 2.4

fig = go.Figure()
panels = [(T_V, VOLT, "x", "y", LW), (T_CP, CURR, "x2", "y2", LW), (T_CP, POWER, "x3", "y3", LW),
          (T_F, FREQ, "x4", "y4", LW), (T_Q, REACT, "x5", "y5", 3.6)]
for t, series, xa, ya, lw in panels:
    for k, s in enumerate(series):
        fig.add_trace(go.Scatter(x=t, y=s, mode="lines", xaxis=xa, yaxis=ya,
                                 line=dict(color=COLORS[k % 7], width=lw),
                                 name=NAMES[k] if k < len(NAMES) else "", showlegend=False,
                                 hoverinfo="skip"))
fig.add_trace(go.Scatter(x=T_B, y=BAL, mode="lines", xaxis="x6", yaxis="y6",
                         line=dict(color="black", width=4), showlegend=False, hoverinfo="skip"))

def axis(domain, rng, vals, texts=None, anchor=None):
    d = dict(domain=domain, range=rng, tickmode="array", tickvals=vals,
             ticktext=texts if texts is not None else [str(v) for v in vals],
             showline=True, linecolor=AX, linewidth=1, mirror="ticks",
             ticks="inside", ticklen=5, tickwidth=1, tickcolor=AX,
             showgrid=True, gridcolor=GRID, gridwidth=1, zeroline=False,
             tickfont=dict(family=FONT, size=17.5, color=AX), fixedrange=True,
             automargin=False, ticklabeloverflow="allow", anchor=anchor)
    return d

LX = [px(91), px(424)]
LX2 = [px(91), px(585)]
RX = [px(741), px(1238)]
R1 = [py(257), py(39)]
R2 = [py(573), py(355)]
R3 = [py(886), py(667)]

fig.update_layout(
    width=W, height=H, margin=dict(l=0, r=0, t=0, b=0, autoexpand=False),
    paper_bgcolor="white", plot_bgcolor="white", showlegend=False,
    font=dict(family=FONT, color=AX),
    xaxis=axis(LX, [0, 150], VOLT_XTICKS, anchor="y"),
    yaxis=axis(R1, [160, 240], VOLT_YTICKS, anchor="x"),
    xaxis2=axis(RX, [0, 120], TIME_TICKS, anchor="y2"),
    yaxis2=axis(R1, [0, 63.2], CURR_YTICKS, anchor="x2"),
    xaxis3=axis(LX2, [0, 120], TIME_TICKS, anchor="y3"),
    yaxis3=axis(R2, [0, 15000], POW_YTICKS, anchor="x3"),
    xaxis4=axis(RX, [0, 120], TIME_TICKS, anchor="y4"),
    yaxis4=axis(R2, [49.5, 50.5], FREQ_YTICKS, FREQ_YLABELS, anchor="x4"),
    xaxis5=axis(LX2, [0, 120], TIME_TICKS, anchor="y5"),
    yaxis5=axis(R3, [-4000, 4000], Q_YTICKS, Q_YLABELS, anchor="x5"),
    xaxis6=axis(RX, [0, 120], TIME_TICKS, anchor="y6"),
    yaxis6=axis(R3, [99, 101], BAL_YTICKS, BAL_YLABELS, anchor="x6"),
)

ann = []
titles = [("Voltage at Each Node Over Time", 257.5, 21),
          ("Current at Each Node Over Time", 990, 21),
          ("Active Power at Each Node Over Time", 338, 337),
          ("Frequency at Each Node", 990, 337),
          ("Reactive Power at Each Node", 338, 651),
          ("Power Balance Index (Generation/Consumption)", 990, 651)]
for txt, x, y in titles:
    ann.append(dict(text="<b>%s</b>" % txt, x=px(x), y=py(y), xref="paper", yref="paper",
                    xanchor="center", yanchor="middle", showarrow=False,
                    font=dict(family=FONT, size=19.5, color="black")))
xtitles = [(257.5, 306), (990, 306), (338, 622), (990, 622), (338, 936), (990, 936)]
for x, y in xtitles:
    ann.append(dict(text="Time (seconds)", x=px(x), y=py(y), xref="paper", yref="paper",
                    xanchor="center", yanchor="middle", showarrow=False,
                    font=dict(family=FONT, size=18, color=AX)))
ytitles = [("Voltage (volts)", 38, 148), ("Current (amperes)", 700, 148),
           ("Power (watts)", 20, 464), ("Frequency (Hz)", 685, 464),
           ("Reactive Power (VAR)", 23, 776), ("Balance Index (%)", 675, 776)]
for txt, x, y in ytitles:
    ann.append(dict(text=txt, x=px(x), y=py(y), xref="paper", yref="paper", textangle=-90,
                    xanchor="center", yanchor="middle", showarrow=False,
                    font=dict(family=FONT, size=18, color=AX)))

# custom legend (box + line samples + names)
shapes = [dict(type="rect", xref="paper", yref="paper", x0=px(456), x1=px(587),
               y0=py(352), y1=py(33), line=dict(color=AX, width=1), fillcolor="rgba(0,0,0,0)")]
for i, nm in enumerate(NAMES):
    yy = 54 + 24 * i
    shapes.append(dict(type="line", xref="paper", yref="paper", x0=px(462), x1=px(521),
                       y0=py(yy), y1=py(yy), line=dict(color=COLORS[i % 7], width=LW)))
    ann.append(dict(text=nm, x=px(524), y=py(yy), xref="paper", yref="paper",
                    xanchor="left", yanchor="middle", showarrow=False,
                    font=dict(family=FONT, size=17.5, color="black")))

fig.update_layout(annotations=ann, shapes=shapes)
fig.write_html("out.html")
